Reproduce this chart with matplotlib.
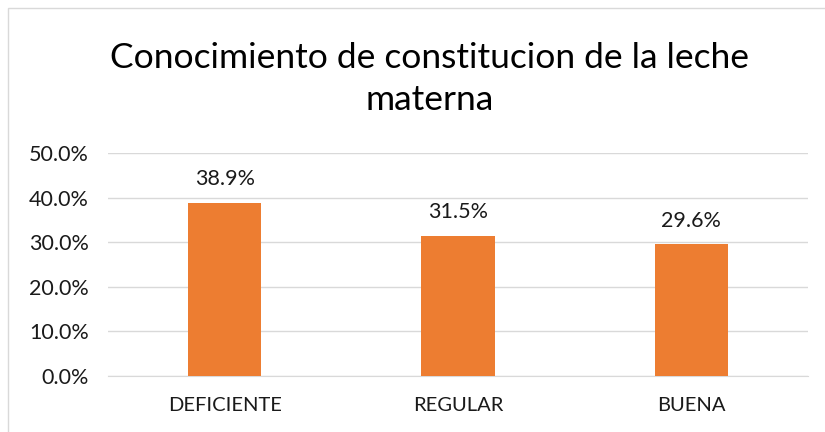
import matplotlib
matplotlib.use("Agg")
import matplotlib.pyplot as plt
from matplotlib.patches import Rectangle
from matplotlib.ticker import FuncFormatter, MultipleLocator

categories = ["DEFICIENTE", "REGULAR", "BUENA"]
values = [0.389, 0.315, 0.296]
title = "Conocimiento de constitucion de la leche\nmaterna"

plt.rcParams["font.family"] = ["Lato", "DejaVu Sans"]

fig = plt.figure(figsize=(8.25, 4.32), dpi=100)
ax = fig.add_axes([108 / 825, 1 - 376 / 432, 700 / 825, 223 / 432])

x = range(len(categories))
bars = ax.bar(x, values, width=0.315, color="#ED7D31", zorder=3)
for b, v in zip(bars, values):
    ax.text(b.get_x() + b.get_width() / 2, v + 0.03, f"{v * 100:.1f}%",
            ha="center", va="bottom", fontsize=15.5, color="#1a1a1a")

ax.set_xlim(-0.5, len(categories) - 0.5)
ax.set_ylim(0, 0.5)
ax.yaxis.set_major_locator(MultipleLocator(0.1))
ax.yaxis.set_major_formatter(FuncFormatter(lambda y, _: f"{y * 100:.1f}%"))
ax.set_xticks(list(x))
ax.set_xticklabels(categories)
ax.tick_params(axis="both", length=0, colors="#1a1a1a")
ax.tick_params(axis="x", pad=15, labelsize=14.5)
ax.tick_params(axis="y", pad=14, labelsize=15.5)
ax.grid(axis="y", color="#D9D9D9", linewidth=1, zorder=0)
for s in ["top", "right", "left"]:
    ax.spines[s].set_visible(False)
ax.spines["bottom"].set_color("#D9D9D9")

fig.text(430 / 825, 1 - 79 / 432, title, ha="center", va="center",
         fontsize=25.5, linespacing=1.35, color="#000000")

fig.patches.append(Rectangle((8 / 825, -0.1), 1.1, (432 - 8) / 432 + 0.1,
                             transform=fig.transFigure, fill=False,
                             edgecolor="#D9D9D9", linewidth=1))

fig.savefig("out.png", dpi=100)
